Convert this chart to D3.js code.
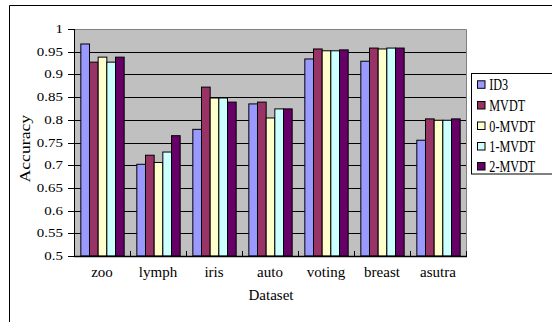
<!DOCTYPE html>
<html>
<head>
<meta charset="utf-8">
<script src="https://cdn.jsdelivr.net/npm/d3@7"></script>
<style>
  html, body { margin: 0; padding: 0; background: #fff; }
  svg { display: block; }
  text { font-family: "Liberation Serif", "Times New Roman", serif; fill: #000; }
</style>
</head>
<body>
<svg id="chart" width="552" height="322"></svg>
<script>
const categories = ["zoo", "lymph", "iris", "auto", "voting", "breast", "asutra"];
const seriesNames = ["ID3", "MVDT", "0-MVDT", "1-MVDT", "2-MVDT"];
const ID3      = [0.967, 0.702, 0.779, 0.835, 0.934, 0.929, 0.755];
const MVDT     = [0.927, 0.722, 0.872, 0.839, 0.956, 0.958, 0.802];
const MVDT0    = [0.938, 0.706, 0.848, 0.804, 0.952, 0.956, 0.799];
const MVDT1    = [0.927, 0.729, 0.848, 0.824, 0.952, 0.958, 0.799];
const MVDT2    = [0.938, 0.765, 0.839, 0.824, 0.954, 0.958, 0.802];
const seriesValues = [ID3, MVDT, MVDT0, MVDT1, MVDT2];
const seriesColors = ["#9999FF", "#993366", "#FFFFCC", "#CCFFFF", "#660066"];
const yTicks = [0.5, 0.55, 0.6, 0.65, 0.7, 0.75, 0.8, 0.85, 0.9, 0.95, 1];
const yTickLabels = ["0.5", "0.55", "0.6", "0.65", "0.7", "0.75", "0.8", "0.85", "0.9", "0.95", "1"];

const svg = d3.select("#chart");
const L = 74, R = 466, T = 29, B = 256;

// outer border
svg.append("path").attr("d", "M9.5,322 V5.5 H552").attr("fill", "none").attr("stroke", "#000").attr("stroke-width", 1);

const x0 = d3.scaleBand().domain(categories).range([L, R]).padding(0);
const bw = x0.bandwidth();
const x1 = d3.scaleBand().domain(seriesNames).range([bw * 0.113, bw * 0.887]).padding(0);
const y = d3.scaleLinear().domain([0.5, 1]).range([B, T]);

// plot area
svg.append("rect").attr("x", L).attr("y", T).attr("width", R - L).attr("height", B - T).attr("fill", "#C0C0C0");
svg.append("path").attr("d", `M${L},${T + 0.5} H${R + 0.5} V${B}`).attr("fill", "none").attr("stroke", "#808080").attr("stroke-width", 1);

// gridlines
svg.append("g").selectAll("line").data(yTicks.filter(v => v > 0.5 && v < 1)).join("line")
  .attr("x1", L).attr("x2", R)
  .attr("y1", d => Math.round(y(d)) + 0.5).attr("y2", d => Math.round(y(d)) + 0.5)
  .attr("stroke", "#000").attr("stroke-width", 1);

// bars
const groups = svg.append("g").selectAll("g").data(categories).join("g")
  .attr("transform", c => `translate(${x0(c)},0)`);
groups.selectAll("rect").data((c, i) => seriesNames.map((s, j) => ({ s, v: seriesValues[j][i], color: seriesColors[j] })))
  .join("rect")
  .attr("x", d => x1(d.s) + 0.5)
  .attr("y", d => y(d.v))
  .attr("width", x1.bandwidth())
  .attr("height", d => B - y(d.v))
  .attr("fill", d => d.color)
  .attr("stroke", "#000").attr("stroke-width", 1);

// x axis
const xAxis = svg.append("g");
xAxis.append("line").attr("x1", L).attr("x2", R + 1).attr("y1", B + 0.5).attr("y2", B + 0.5).attr("stroke", "#000").attr("stroke-width", 1.5);
const bounds = categories.map(c => x0(c)).concat([R]).slice(1);
xAxis.selectAll("line.tk").data(bounds).join("line").attr("class", "tk")
  .attr("x1", d => Math.round(d) + 0.5).attr("x2", d => Math.round(d) + 0.5)
  .attr("y1", B - 5).attr("y2", B).attr("stroke", "#000").attr("stroke-width", 1);
xAxis.selectAll("text").data(categories).join("text")
  .attr("x", c => x0(c) + bw / 2).attr("y", 277)
  .attr("text-anchor", "middle").attr("font-size", 15).text(c => c);

// y axis
const yAxis = svg.append("g");
yAxis.append("line").attr("x1", L + 0.5).attr("x2", L + 0.5).attr("y1", T).attr("y2", B + 1).attr("stroke", "#000").attr("stroke-width", 1);
yAxis.selectAll("line.tk").data(yTicks).join("line").attr("class", "tk")
  .attr("x1", L - 6).attr("x2", L)
  .attr("y1", d => Math.round(y(d)) + 0.5).attr("y2", d => Math.round(y(d)) + 0.5)
  .attr("stroke", "#000").attr("stroke-width", 1);
yAxis.selectAll("text").data(yTicks).join("text")
  .attr("transform", d => `translate(63,${y(d) + 4}) scale(1.3,1)`)
  .attr("text-anchor", "end").attr("font-size", 11.5)
  .text((d, i) => yTickLabels[i]);

// axis titles
svg.append("text").attr("transform", "translate(29.6,148.7) rotate(-90) scale(1.22,1)")
  .attr("text-anchor", "middle").attr("font-size", 14.5).text("Accuracy");
svg.append("text").attr("x", 271).attr("y", 300).attr("text-anchor", "middle").attr("font-size", 15).text("Dataset");

// legend
const lg = svg.append("g");
lg.append("rect").attr("x", 471.5).attr("y", 73.5).attr("width", 100).attr("height", 100.5)
  .attr("fill", "#fff").attr("stroke", "#000").attr("stroke-width", 1);
const ly = [84.3, 105, 125.5, 146, 166];
const items = lg.selectAll("g").data(seriesNames).join("g")
  .attr("transform", (d, i) => `translate(0,${ly[i]})`);
items.append("rect").attr("x", 477.5).attr("y", -3.5).attr("width", 7.5).attr("height", 7.5)
  .attr("fill", (d, i) => seriesColors[i]).attr("stroke", "#000").attr("stroke-width", 1);
items.append("text").attr("transform", "translate(489.3,6) scale(0.76,1)")
  .attr("font-size", 16).text(d => d);
</script>
</body>
</html>
